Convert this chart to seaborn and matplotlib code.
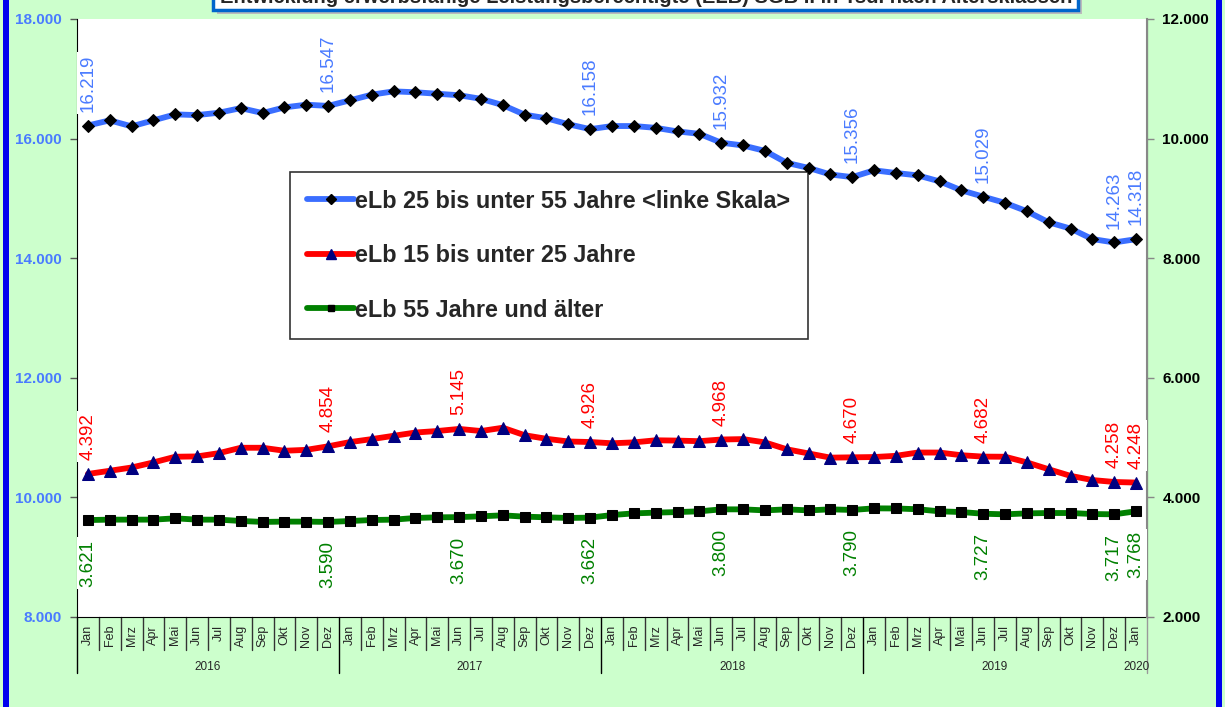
import numpy as np
import pandas as pd
import matplotlib
matplotlib.use("Agg")
import matplotlib.pyplot as plt
import seaborn as sns
from matplotlib.patches import Rectangle
from matplotlib.lines import Line2D


# ==================================================
# DATA
# ==================================================
month_names = ["Jan", "Feb", "Mrz", "Apr", "Mai", "Jun",
               "Jul", "Aug", "Sep", "Okt", "Nov", "Dez"]
months = month_names * 4 + ["Jan"]
years = ["2016", "2017", "2018", "2019", "2020"]

elb_25_55 = [
    16219, 16305, 16205, 16305, 16405, 16393, 16433, 16510, 16427, 16522, 16567, 16547,
    16640, 16735, 16790, 16775, 16750, 16725, 16665, 16560, 16400, 16340, 16240, 16158,
    16210, 16210, 16180, 16120, 16080, 15932, 15885, 15795, 15595, 15510, 15400, 15356,
    15470, 15425, 15385, 15285, 15135, 15029, 14925, 14785, 14600, 14495, 14320, 14263,
    14318,
]
elb_15_25 = [
    4392, 4445, 4500, 4585, 4680, 4685, 4740, 4830, 4830, 4780, 4795, 4854,
    4925, 4975, 5030, 5085, 5110, 5145, 5110, 5165, 5040, 4980, 4935, 4926,
    4905, 4920, 4955, 4950, 4940, 4968, 4975, 4920, 4805, 4735, 4665, 4670,
    4675, 4695, 4750, 4750, 4705, 4682, 4680, 4585, 4470, 4360, 4290, 4258,
    4248,
]
elb_55 = [
    3621, 3628, 3628, 3628, 3650, 3628, 3628, 3606, 3590, 3595, 3595, 3590,
    3605, 3622, 3628, 3656, 3667, 3670, 3684, 3700, 3678, 3667, 3656, 3662,
    3705, 3733, 3745, 3755, 3767, 3800, 3800, 3783, 3800, 3783, 3800, 3790,
    3817, 3815, 3802, 3767, 3755, 3727, 3717, 3733, 3739, 3739, 3722, 3717,
    3768,
]

# months that carry a value label
label_idx_blue = [0, 11, 23, 29, 35, 41, 47, 48]
label_idx_other = [0, 11, 17, 23, 29, 35, 41, 47, 48]

left_ticks = [8000, 10000, 12000, 14000, 16000, 18000]
right_ticks = [2000, 4000, 6000, 8000, 10000, 12000]

title = "Entwicklung erwerbsfähige Leistungsberechtigte (ELB) SGB II in Tsd. nach Altersklassen"

df = pd.DataFrame({
    "idx": np.arange(len(months)),
    "monat": months,
    "b": elb_25_55,
    "r": elb_15_25,
    "g": elb_55,
})


def fmt(v):
    return f"{v:,.0f}".replace(",", ".")


# ==================================================
# STYLE
# ==================================================
sns.set_style("white")
plt.rcParams["font.family"] = ["Liberation Sans", "DejaVu Sans"]

BG = "#CCFFCC"
BLUE = "#3A6EFF"
BLUE_TXT = "#4A7BFF"
RED = "#FF0000"
GREEN = "#008000"

W, H = 1225, 707
fig = plt.figure(figsize=(W / 100, H / 100), dpi=100, facecolor=BG)
ax = fig.add_axes([77 / W, 1 - 617 / H, (1147 - 77) / W, (617 - 19) / H])
ax.set_facecolor("white")
ax2 = ax.twinx()

# ==================================================
# LINES
# ==================================================
sns.lineplot(data=df, x="idx", y="b", ax=ax, color=BLUE, lw=4.2,
             marker="D", markersize=6, markerfacecolor="black",
             markeredgecolor="black", zorder=4)
sns.lineplot(data=df, x="idx", y="r", ax=ax2, color=RED, lw=4.2,
             marker="^", markersize=8, markerfacecolor="#000080",
             markeredgecolor="#000080", zorder=4)
sns.lineplot(data=df, x="idx", y="g", ax=ax2, color=GREEN, lw=4.2,
             marker="s", markersize=6.5, markerfacecolor="black",
             markeredgecolor="black", zorder=4)

ax.set_xlim(-0.5, 48.5)
ax.set_ylim(8000, 18000)
ax2.set_ylim(2000, 12000)
ax.set_xlabel("")
ax.set_ylabel("")
ax2.set_ylabel("")

ax.set_yticks(left_ticks)
ax.set_yticklabels([fmt(t) for t in left_ticks], color=BLUE_TXT,
                   fontweight="bold", fontsize=11)
ax2.set_yticks(right_ticks)
ax2.set_yticklabels([fmt(t) for t in right_ticks], color="black",
                    fontweight="bold", fontsize=11)
ax.tick_params(axis="y", direction="out", length=5, width=1, color="#555555", pad=6)
ax2.tick_params(axis="y", direction="out", length=5, width=1, color="#888888", pad=6)
ax.set_xticks([])
ax2.set_xticks([])

for a in (ax, ax2):
    a.spines["top"].set_visible(False)
ax.spines["left"].set_color("black")
ax.spines["bottom"].set_color("black")
ax2.spines["right"].set_color("#888888")
ax2.spines["right"].set_linewidth(1.5)
ax2.spines["left"].set_visible(False)
ax2.spines["bottom"].set_visible(False)

# ==================================================
# VALUE LABELS
# ==================================================
box = dict(facecolor="white", edgecolor="none", pad=1.5)
for i in label_idx_blue:
    ax.annotate(fmt(elb_25_55[i]), (i, elb_25_55[i]), xytext=(0, 10),
                textcoords="offset points", rotation=90, ha="center",
                va="bottom", color=BLUE_TXT, fontsize=13.5, bbox=box,
                annotation_clip=False, zorder=6)
for i in label_idx_other:
    ax2.annotate(fmt(elb_15_25[i]), (i, elb_15_25[i]), xytext=(0, 10),
                 textcoords="offset points", rotation=90, ha="center",
                 va="bottom", color=RED, fontsize=13.5, bbox=box,
                 annotation_clip=False, zorder=6)
    ax2.annotate(fmt(elb_55[i]), (i, elb_55[i]), xytext=(0, -14),
                 textcoords="offset points", rotation=90, ha="center",
                 va="top", color=GREEN, fontsize=13.5, bbox=box,
                 annotation_clip=False, zorder=6)

# ==================================================
# MONTH / YEAR AXIS
# ==================================================
tr = ax.get_xaxis_transform()
hgt = 598
for i, m in enumerate(months):
    ax.text(i, -8 / hgt, m, transform=tr, rotation=90, ha="center",
            va="top", fontsize=9)
for k in range(len(months) + 1):
    xpos = k - 0.5
    long_line = (k % 12 == 0) and k < 48
    y1 = -56 / hgt if long_line else -33 / hgt
    col = "black" if long_line else "#333333"
    if k == 49:
        col = "#999999"
        y1 = -56 / hgt
    ax.plot([xpos, xpos], [0, y1], transform=tr, color=col, lw=1,
            clip_on=False)
for j, yr in enumerate(years):
    xc = 5.5 + 12 * j if j < 4 else 48
    ax.text(xc, -50 / hgt, yr, transform=tr, ha="center", va="center",
            fontsize=8.5)

# ==================================================
# LEGEND
# ==================================================
handles = [
    Line2D([], [], color=BLUE, lw=4.2, marker="D", markersize=5,
           markerfacecolor="black", markeredgecolor="black"),
    Line2D([], [], color=RED, lw=4.2, marker="^", markersize=7,
           markerfacecolor="#000080", markeredgecolor="#000080"),
    Line2D([], [], color=GREEN, lw=4.2, marker="s", markersize=5,
           markerfacecolor="black", markeredgecolor="black"),
]
labels = [
    "eLb 25 bis unter 55 Jahre <linke Skala>",
    "eLb 15 bis unter 25 Jahre",
    "eLb 55 Jahre und älter",
]
leg = ax2.legend(handles, labels, loc="upper left",
                 bbox_to_anchor=(0.199, 0.744), frameon=True, fancybox=False,
                 prop={"weight": "bold", "size": 16.8}, handlelength=2.0,
                 handletextpad=0.05, labelspacing=1.35, borderpad=0.75,
                 borderaxespad=0)
leg.get_frame().set_edgecolor("black")
leg.get_frame().set_linewidth(1.2)
leg.set_zorder(10)

# ==================================================
# FRAME AND TITLE
# ==================================================
fig.patches.append(Rectangle((3 / W, 0), 6 / W, 1, transform=fig.transFigure,
                             facecolor="#0000EE", edgecolor="none"))
fig.patches.append(Rectangle((1216 / W, 0), 6 / W, 1, transform=fig.transFigure,
                             facecolor="#0000EE", edgecolor="none"))
fig.patches.append(Rectangle((217 / W, 1 - 14 / H), 865 / W, 40 / H,
                             transform=fig.transFigure, facecolor="#BBBBBB",
                             edgecolor="none", zorder=20))
fig.patches.append(Rectangle((213 / W, 1 - 10 / H), 865 / W, 40 / H,
                             transform=fig.transFigure, facecolor="white",
                             edgecolor="#0066CC", lw=2.5, zorder=21))
fig.text(646 / W, 1 + 2 / H, title, ha="center", va="center",
         fontsize=14.5, fontweight="bold", zorder=22)

fig.savefig("out.png", dpi=100, facecolor=BG)
